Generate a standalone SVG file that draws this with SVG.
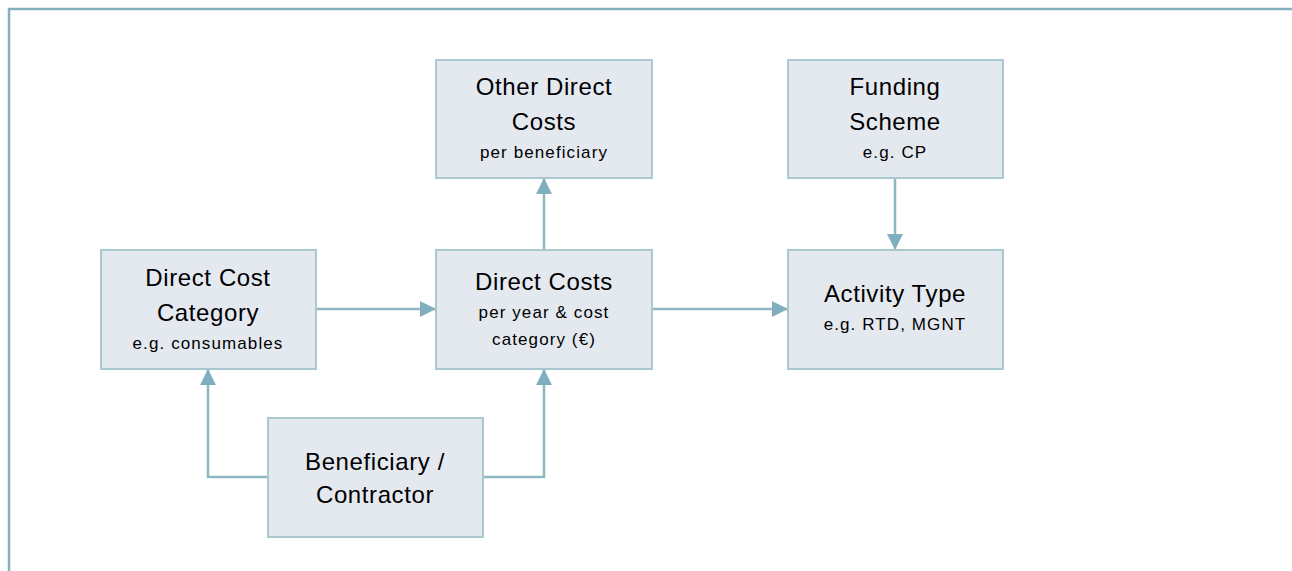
<svg xmlns="http://www.w3.org/2000/svg" width="1292" height="571" viewBox="0 0 1292 571">
  <style>
    .box { fill: #e4e9f0; stroke: #a9c8d0; stroke-width: 2; }
    .t { font-family: "Liberation Sans", Arial, sans-serif; font-size: 24px; letter-spacing: 0.6px; fill: #000; text-anchor: middle; }
    .s { font-family: "Liberation Sans", Arial, sans-serif; font-size: 17px; letter-spacing: 1.1px; fill: #000; text-anchor: middle; }
    .edge { fill: none; stroke: #8fb8c3; stroke-width: 2.5; }
  </style>
  <defs>
    <marker id="arrow" viewBox="0 0 16 16" refX="16" refY="8" markerWidth="16" markerHeight="16" markerUnits="userSpaceOnUse" orient="auto">
      <path d="M0,0 L16,8 L0,16 Z" fill="#7fafbc"/>
    </marker>
  </defs>
  <rect width="1292" height="571" fill="#ffffff"/>
  <!-- outer frame -->
  <path d="M9,571 V9 H1292" fill="none" stroke="#86b0bc" stroke-width="2.5"/>

  <g id="connectors">
    <path class="edge" d="M316,309 H436" marker-end="url(#arrow)"/>
    <path class="edge" d="M652,309 H788" marker-end="url(#arrow)"/>
    <path class="edge" d="M544,250 V178" marker-end="url(#arrow)"/>
    <path class="edge" d="M895,178 V250" marker-end="url(#arrow)"/>
    <path class="edge" d="M268,477 H208 V369" marker-end="url(#arrow)"/>
    <path class="edge" d="M483,477 H544 V369" marker-end="url(#arrow)"/>
  </g>

  <g id="other-direct-costs">
    <rect class="box" x="436" y="60" width="216" height="118"/>
    <text class="t" x="544" y="95">Other Direct</text>
    <text class="t" x="544" y="130">Costs</text>
    <text class="s" x="544" y="158">per beneficiary</text>
  </g>
  <g id="funding-scheme">
    <rect class="box" x="788" y="60" width="215" height="118"/>
    <text class="t" x="895" y="95">Funding</text>
    <text class="t" x="895" y="130">Scheme</text>
    <text class="s" x="895" y="158">e.g. CP</text>
  </g>
  <g id="direct-cost-category">
    <rect class="box" x="101" y="250" width="215" height="119"/>
    <text class="t" x="208" y="286">Direct Cost</text>
    <text class="t" x="208" y="321">Category</text>
    <text class="s" x="208" y="349">e.g. consumables</text>
  </g>
  <g id="direct-costs">
    <rect class="box" x="436" y="250" width="216" height="119"/>
    <text class="t" x="544" y="290">Direct Costs</text>
    <text class="s" x="544" y="318">per year &amp; cost</text>
    <text class="s" x="544" y="345">category (€)</text>
  </g>
  <g id="activity-type">
    <rect class="box" x="788" y="250" width="215" height="119"/>
    <text class="t" x="895" y="302">Activity Type</text>
    <text class="s" x="895" y="330">e.g. RTD, MGNT</text>
  </g>
  <g id="beneficiary">
    <rect class="box" x="268" y="418" width="215" height="119"/>
    <text class="t" x="375" y="470">Beneficiary /</text>
    <text class="t" x="375" y="503">Contractor</text>
  </g>
</svg>
